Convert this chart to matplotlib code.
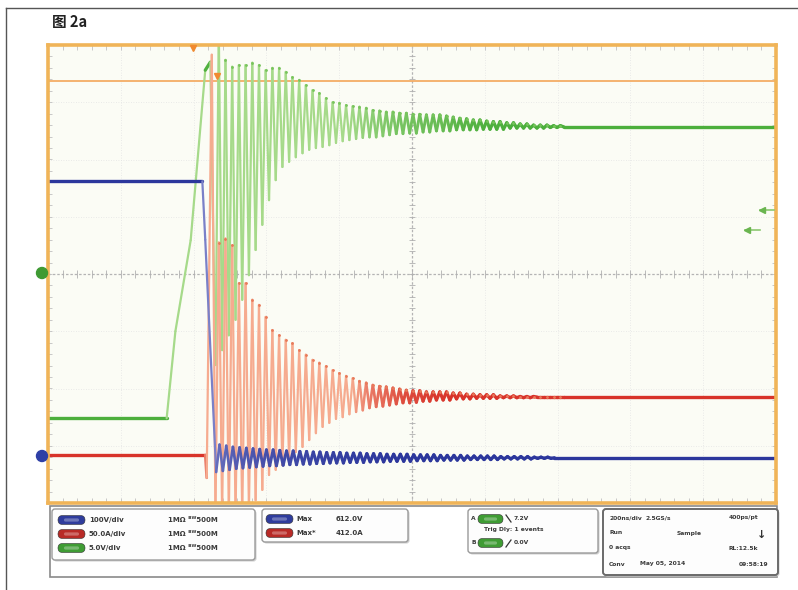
import numpy as np
import matplotlib
matplotlib.use("Agg")
import matplotlib.pyplot as plt
import matplotlib.colors as mcolors
from matplotlib.collections import LineCollection
from matplotlib.patches import FancyBboxPatch, Rectangle, Circle

plt.rcParams['font.family'] = ['Noto Sans CJK SC', 'DejaVu Sans']

# ---------------- data (screen divisions: time 0..10 div, amplitude -4..4 div) ----------------
title = "图 2a"
ring_start = 2.30        # div, first ringing extreme
ring_period = 0.092      # div per ringing cycle
cursor_level = 3.37
trigger_pos = 1.99

blue_pre_t = [0.0, 2.12, 2.16, 2.31]
blue_pre_v = [1.62, 1.62, 0.60, -3.46]
blue_level = -3.21
blue_ring_amp = [0.23, 0.21, 0.19, 0.18, 0.17, 0.16, 0.15, 0.14, 0.14, 0.13,
                 0.12, 0.12, 0.11, 0.11, 0.10, 0.10, 0.09, 0.09, 0.09, 0.08,
                 0.08, 0.08, 0.07, 0.07, 0.07, 0.06, 0.06, 0.06, 0.06, 0.05,
                 0.05, 0.05, 0.05, 0.04, 0.04, 0.04, 0.04, 0.03, 0.03, 0.03,
                 0.03, 0.03, 0.02, 0.02, 0.02, 0.02, 0.02, 0.01, 0.01, 0.01]

red_pre_t = [0.0, 2.16, 2.18, 2.25]
red_pre_v = [-3.16, -3.16, -3.56, 3.83]
red_bottoms = [-4.21, -4.21, -4.21, -4.21, -4.21, -4.10, -3.95, -3.77, -3.51, -3.42,
               -3.34, -3.25, -3.11, -3.02, -2.90, -2.78, -2.67, -2.60, -2.53, -2.50,
               -2.45, -2.41, -2.38, -2.34, -2.32, -2.31, -2.29, -2.27, -2.25, -2.25,
               -2.24, -2.22, -2.22, -2.20, -2.20, -2.20, -2.18, -2.18, -2.18, -2.17,
               -2.17, -2.17, -2.17, -2.16, -2.16, -2.16, -2.16, -2.16, -2.15, -2.15,
               -2.15, -2.15]
red_tops = [0.55, 0.62, 0.50, -0.16, -0.16, -0.45, -0.54, -0.75, -0.98, -1.07,
            -1.15, -1.21, -1.33, -1.41, -1.50, -1.55, -1.61, -1.68, -1.73, -1.78,
            -1.82, -1.87, -1.90, -1.94, -1.96, -1.97, -1.99, -2.01, -2.03, -2.04,
            -2.04, -2.06, -2.06, -2.06, -2.06, -2.08, -2.08, -2.10, -2.10, -2.11,
            -2.11, -2.11, -2.13, -2.13, -2.13, -2.14, -2.14, -2.14, -2.15, -2.15,
            -2.15, -2.15]
red_level = -2.15

green_pre_t = [0.0, 1.63, 1.75, 1.96, 2.16, 2.23]
green_pre_v = [-2.52, -2.52, -1.00, 0.59, 3.56, 3.70]
green_troughs = [-1.59, -1.33, -1.07, -0.80, -0.45, -0.02, 0.42, 0.86, 1.29, 1.64,
                 1.87, 1.96, 2.04, 2.11, 2.17, 2.20, 2.22, 2.25, 2.29, 2.32,
                 2.34, 2.36, 2.38, 2.39, 2.39, 2.41, 2.43, 2.45, 2.45, 2.46,
                 2.46, 2.48, 2.48, 2.50, 2.50, 2.50, 2.52, 2.52, 2.52, 2.52,
                 2.53, 2.53, 2.53, 2.53, 2.55, 2.55, 2.55, 2.55, 2.55, 2.55,
                 2.56, 2.56]
green_tops = [4.26, 3.74, 3.62, 3.65, 3.65, 3.69, 3.65, 3.56, 3.60, 3.60,
              3.53, 3.44, 3.39, 3.30, 3.21, 3.16, 3.07, 3.00, 2.99, 2.95,
              2.93, 2.92, 2.90, 2.86, 2.85, 2.83, 2.83, 2.81, 2.81, 2.79,
              2.79, 2.78, 2.78, 2.78, 2.76, 2.74, 2.72, 2.71, 2.69, 2.69,
              2.67, 2.66, 2.66, 2.64, 2.64, 2.62, 2.62, 2.60, 2.60, 2.60,
              2.59, 2.59]
green_level = 2.57

ch_scales = ["100V/div", "50.0A/div", "5.0V/div"]
ch_coupling = "1MΩ ᴮᵂ500M"
meas_names = ["Max", "Max*"]
meas_values = ["612.0V", "412.0A"]
trig_rows = ["7.2V", "Trig Dly: 1 events", "0.0V"]
acq_rows = [[("200ns/div", 609, 'left'), ("2.5GS/s", 646, 'left'), ("400ps/pt", 758, 'right')],
            [("Run", 609, 'left'), ("Sample", 677, 'left')],
            [("0 acqs", 609, 'left'), ("RL:12.5k", 758, 'right')],
            [("Conv", 609, 'left'), ("May 05, 2014", 640, 'left'), ("09:58:19", 768, 'right')]]

# ---------------- build traces ----------------
def ring_series(pre_t, pre_v, first, second, level, start, period):
    t = list(pre_t)
    v = list(pre_v)
    k = 0
    for a, b in zip(first, second):
        t += [start + k * period, start + k * period + period / 2]
        v += [a, b]
        k += 1
    t += [start + k * period, 10.0]
    v += [level, level]
    return np.array(t), np.array(v)

red_t, red_v = ring_series(red_pre_t, red_pre_v, red_bottoms, red_tops,
                           red_level, ring_start, ring_period)
green_t, green_v = ring_series(green_pre_t, green_pre_v, green_troughs, green_tops,
                               green_level, ring_start, ring_period)

bt = list(blue_pre_t)
bv = list(blue_pre_v)
t0 = blue_pre_t[-1]
for k, a in enumerate(blue_ring_amp):
    bt += [t0 + ring_period / 2 + k * ring_period, t0 + ring_period + k * ring_period]
    bv += [blue_level + a, blue_level - a]
bt += [bt[-1] + ring_period / 2, 10.0]
bv += [blue_level, blue_level]
blue_t, blue_v = np.array(bt), np.array(bv)

# ---------------- figure ----------------
W, H = 798, 590
fig = plt.figure(figsize=(W / 100, H / 100), dpi=100)
fig.patch.set_facecolor('white')


def fr(x0, y0, x1, y1):
    return [x0 / W, 1 - y1 / H, (x1 - x0) / W, (y1 - y0) / H]


ax = fig.add_axes(fr(48, 45, 776, 503))
ax.set_xlim(0, 10)
ax.set_ylim(-4, 4)
ax.set_facecolor('#fbfcf5')
for s in ax.spines.values():
    s.set_color('#f0b458')
    s.set_linewidth(2.6)
    s.set_zorder(10)
ax.set_xticks([])
ax.set_yticks([])

# graticule
for i in range(1, 10):
    if i != 5:
        ax.axvline(i, color='#e4e4e4', lw=0.6, ls=(0, (1, 2)), zorder=0)
for j in range(-3, 4):
    if j != 0:
        ax.axhline(j, color='#e4e4e4', lw=0.6, ls=(0, (1, 2)), zorder=0)
ax.axvline(5, color='#b4b4b4', lw=0.9, ls=(0, (2, 1.5)), zorder=0)
ax.axhline(0, color='#b4b4b4', lw=0.9, ls=(0, (2, 1.5)), zorder=0)
mx = np.arange(0.2, 10, 0.2)
my = np.arange(-3.8, 4, 0.2)
ax.vlines(mx, -0.07, 0.07, color='#b0b0b0', lw=0.6, zorder=0)
ax.hlines(my, 4.96, 5.04, color='#b0b0b0', lw=0.6, zorder=0)
ax.vlines(mx, 3.92, 4.0, color='#c0c0c0', lw=0.6, zorder=0)
ax.vlines(mx, -4.0, -3.92, color='#c0c0c0', lw=0.6, zorder=0)
ax.hlines(my, 0, 0.05, color='#c0c0c0', lw=0.6, zorder=0)
ax.hlines(my, 9.95, 10, color='#c0c0c0', lw=0.6, zorder=0)

# cursor
ax.axhline(cursor_level, color='#f4ad66', lw=1.3, zorder=1)


def graded(t, v, dark, light, z, lw_dark=2.4, lw_light=1.6):
    pts = np.column_stack([t, v])
    segs = np.stack([pts[:-1], pts[1:]], axis=1)
    dv = np.abs(np.diff(v))
    f = np.clip((dv - 0.12) / 0.5, 0, 1)
    d = np.array(mcolors.to_rgb(dark))
    l = np.array(mcolors.to_rgb(light))
    cols = d[None, :] * (1 - f)[:, None] + l[None, :] * f[:, None]
    lws = lw_dark * (1 - f) + lw_light * f
    lc = LineCollection(segs, colors=cols, linewidths=lws, zorder=z,
                        capstyle='round', joinstyle='round')
    ax.add_collection(lc)


graded(green_t, green_v, '#4caf3c', '#a6da8a', 2)
graded(red_t, red_v, '#d8342a', '#f6ab8f', 3)
graded(blue_t, blue_v, '#2c379c', '#7a80c8', 4)

# slightly darker tips of the ringing
pk_t = ring_start + ring_period / 2 + np.arange(len(green_tops)) * ring_period
ax.plot(pk_t, green_tops, ls='none', marker='o', ms=1.0, color='#78c45c', zorder=2)
ax.plot(pk_t, red_tops, ls='none', marker='o', ms=1.0, color='#e87a5a', zorder=3)

# ---------------- overlay ----------------
ov = fig.add_axes([0, 0, 1, 1], zorder=5)
ov.set_xlim(0, W)
ov.set_ylim(H, 0)
ov.axis('off')

ov.plot([6, 6], [8, 590], color='#555555', lw=1.0)
ov.plot([6, 798], [8, 8], color='#555555', lw=1.0)
ov.text(52, 22, title, fontsize=10.5, weight='bold', va='center', ha='left', color='#222222')

# markers on the graticule
ov.add_patch(Circle((42, 273), 5.5, color='#3f9a33', zorder=6))
ov.add_patch(Circle((42, 456), 5.5, color='#2e3fa6', zorder=6))
ov.plot([193], [48], marker='v', ms=5, color='#f08a30', zorder=6)
ov.plot([217], [76], marker='v', ms=4.5, color='#f08a30', zorder=6)
ov.plot([760, 774], [210, 210], color='#8cc870', lw=1.2, zorder=6)
ov.plot([762], [210], marker='<', ms=4, color='#6ab54f', zorder=6)
ov.plot([745, 760], [230, 230], color='#8cc870', lw=1.2, zorder=6)
ov.plot([747], [230], marker='<', ms=4, color='#6ab54f', zorder=6)

# bottom panel
ov.add_patch(Rectangle((50, 506), 727, 71, fc='white', ec='#8a8a8a', lw=1.2, zorder=1))

def box(x0, y0, x1, y1, ec='#9a9a9a', lw=1.0):
    ov.add_patch(FancyBboxPatch((x0 + 1.5, y0 + 1.5), x1 - x0, y1 - y0,
                                boxstyle='round,pad=0,rounding_size=3',
                                fc='#cfcfcf', ec='none', zorder=2))
    ov.add_patch(FancyBboxPatch((x0, y0), x1 - x0, y1 - y0,
                                boxstyle='round,pad=0,rounding_size=3',
                                fc='#fdfdfd', ec=ec, lw=lw, zorder=3))

def pill(x, y, color, w=27, h=9):
    ov.add_patch(FancyBboxPatch((x, y - h / 2), w, h,
                                boxstyle='round,pad=0,rounding_size=4.5',
                                fc=color, ec='#333333', lw=0.4, zorder=4))
    ov.add_patch(FancyBboxPatch((x + 6, y - 1.6), w - 12, 3.2,
                                boxstyle='round,pad=0,rounding_size=1.5',
                                fc='white', ec='none', alpha=0.3, zorder=5))

tk = dict(fontsize=5.0, weight='bold', color='#3a3a3a', va='center', zorder=6,
          family=['DejaVu Sans'])
tks = dict(tk, fontsize=4.3)

box(52, 509, 255, 560)
ch_cols = ['#2f3c9c', '#b82a26', '#3f9c34']
for i, (col, sc) in enumerate(zip(ch_cols, ch_scales)):
    y = 520 + i * 14
    pill(58, y, col)
    ov.text(89, y, sc, **tk)
    ov.text(168, y, ch_coupling, **tk)

box(262, 509, 408, 542)
for i, (col, nm, val) in enumerate(zip(ch_cols[:2], meas_names, meas_values)):
    y = 519 + i * 14
    pill(266, y, col)
    ov.text(296, y, nm, **tk)
    ov.text(336, y, val, **tk)

box(468, 509, 598, 553)
ov.text(471, 519, "A", **tks)
pill(478, 519, '#3f9c34', w=25)
ov.plot([506, 511], [515, 522], color='#333', lw=0.9, zorder=6)
ov.text(514, 519, trig_rows[0], **tks)
ov.text(484, 530, trig_rows[1], **tks)
ov.text(471, 543, "B", **tks)
pill(478, 543, '#3f9c34', w=25)
ov.plot([506, 511], [547, 540], color='#333', lw=0.9, zorder=6)
ov.text(514, 543, trig_rows[2], **tks)

box(603, 509, 778, 575, ec='#6a6a6a', lw=1.4)
row_y = [518, 533, 548, 564]
for row, y in zip(acq_rows, row_y):
    for txt, x, ha in row:
        ov.text(x, y, txt, ha=ha, **tks)
ov.text(762, 535, "↓", fontsize=8, weight='bold', color='#333', ha='center', va='center',
        zorder=6, family=['DejaVu Sans'])

fig.savefig('out.png', dpi=100)
